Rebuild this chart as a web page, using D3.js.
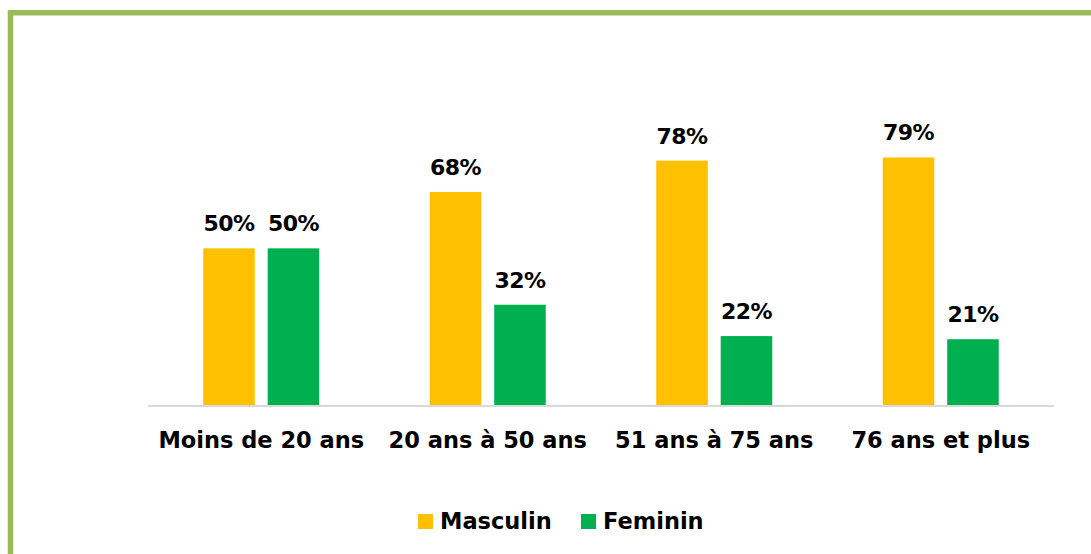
<!DOCTYPE html>
<html>
<head>
<meta charset="utf-8">
<script src="https://cdn.jsdelivr.net/npm/d3@7"></script>
<style>
  body { margin: 0; background: #fff; }
  svg text { font-family: "DejaVu Sans", sans-serif; font-weight: bold; fill: #000; }
</style>
</head>
<body>
<div id="chart"></div>
<script>
// Chart data
var categories = ["Moins de 20 ans", "20 ans à 50 ans", "51 ans à 75 ans", "76 ans et plus"];
var seriesNames = ["Masculin", "Feminin"];
var masculin = [0.50, 0.68, 0.78, 0.79];
var feminin = [0.50, 0.32, 0.22, 0.21];
var seriesColors = ["#FFC000", "#00B050"];

var width = 1091;
var height = 554;

var svg = d3.select("#chart")
  .append("svg")
  .attr("width", width)
  .attr("height", height);

// Frame (left and top green border)
svg.append("path")
  .attr("d", "M10.5," + height + " V12.8 H" + width)
  .style("fill", "none")
  .style("stroke", "#9BBB59")
  .style("stroke-width", 5.5);

// Scales
var x0 = d3.scaleBand()
  .domain(categories)
  .range([148, 1054]);

var x1 = d3.scaleBand()
  .domain(seriesNames)
  .range([-58, 58])
  .paddingInner(0.2);

var y = d3.scaleLinear()
  .domain([0, 1])
  .range([405, 91.7]);

var rows = categories.map(function(c, i) {
  return { cat: c, values: [masculin[i], feminin[i]] };
});

var groups = svg.selectAll("g.cat")
  .data(rows)
  .enter()
  .append("g")
  .attr("class", "cat")
  .attr("transform", function(d) { return "translate(" + (x0(d.cat) + x0.bandwidth() / 2) + ",0)"; });

groups.selectAll("rect")
  .data(function(d) { return d.values.map(function(v, j) { return { name: seriesNames[j], value: v, color: seriesColors[j] }; }); })
  .enter()
  .append("rect")
  .attr("x", function(d) { return x1(d.name); })
  .attr("y", function(d) { return y(d.value); })
  .attr("width", x1.bandwidth())
  .attr("height", function(d) { return y(0) - y(d.value); })
  .style("fill", function(d) { return d.color; });

// Value labels
groups.selectAll("text.val")
  .data(function(d) { return d.values.map(function(v, j) { return { name: seriesNames[j], value: v }; }); })
  .enter()
  .append("text")
  .attr("class", "val")
  .attr("x", function(d) { return x1(d.name) + x1.bandwidth() / 2; })
  .attr("y", function(d) { return y(d.value) - 17; })
  .attr("text-anchor", "middle")
  .style("font-size", "22px")
  .style("letter-spacing", "-0.5px")
  .text(function(d) { return d3.format(".0%")(d.value); });

// Axis baseline
svg.append("line")
  .attr("x1", 148)
  .attr("x2", 1054)
  .attr("y1", y(0) + 1)
  .attr("y2", y(0) + 1)
  .style("stroke", "#D9D9D9")
  .style("stroke-width", 2);

// Category labels
svg.selectAll("text.cat")
  .data(categories)
  .enter()
  .append("text")
  .attr("class", "cat")
  .attr("x", function(d) { return x0(d) + x0.bandwidth() / 2; })
  .attr("y", 448)
  .attr("text-anchor", "middle")
  .style("font-size", "22.5px")
  .text(function(d) { return d; });

// Legend
var legendX = [418, 581];
var legend = svg.selectAll("g.legend")
  .data(seriesNames)
  .enter()
  .append("g")
  .attr("class", "legend")
  .attr("transform", function(d, i) { return "translate(" + legendX[i] + ",514)"; });

legend.append("rect")
  .attr("width", 15)
  .attr("height", 15)
  .style("fill", function(d, i) { return seriesColors[i]; });

legend.append("text")
  .attr("x", 22)
  .attr("y", 15)
  .style("font-size", "22.5px")
  .text(function(d) { return d; });
</script>
</body>
</html>
